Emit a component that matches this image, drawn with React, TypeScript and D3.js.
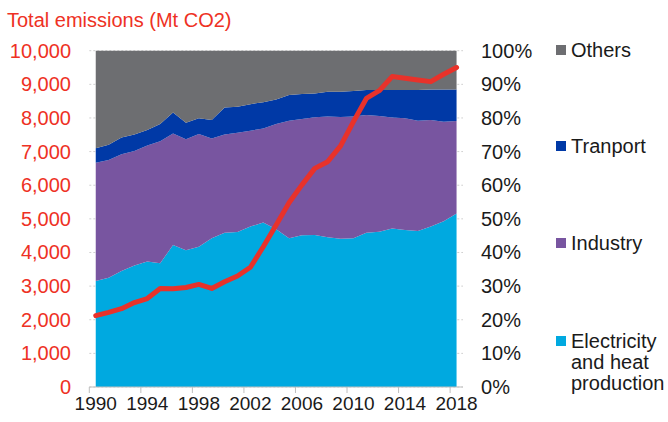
import React from "react";
import * as d3 from "d3";

const years = d3.range(1990, 2019);
const electricity = [31.5, 32.5, 34.5, 36.1, 37.3, 36.8, 42.2, 40.7, 41.7, 44.2, 45.9, 46.1, 47.7, 48.9, 46.9, 44.2, 45.1, 45.2, 44.5, 44.1, 44.2, 45.9, 46.2, 47.1, 46.7, 46.4, 47.7, 49.3, 51.6];
const industry = [35.2, 35.0, 34.7, 34.1, 34.5, 36.3, 33.2, 33.0, 33.5, 29.7, 29.2, 29.5, 28.5, 28.0, 31.3, 35.0, 34.6, 35.0, 35.9, 36.2, 36.2, 35.0, 34.4, 33.0, 33.2, 32.8, 31.7, 29.6, 27.5];
const transport = [4.3, 4.5, 5.0, 4.9, 4.6, 5.1, 6.2, 4.9, 4.7, 5.5, 8.0, 7.7, 7.9, 7.8, 7.3, 7.6, 7.4, 7.1, 7.4, 7.5, 7.6, 7.4, 7.7, 8.2, 8.4, 9.1, 9.1, 9.6, 9.4];
const others = [29.0, 28.0, 25.8, 24.9, 23.6, 21.8, 18.4, 21.4, 20.1, 20.6, 16.9, 16.7, 15.9, 15.3, 14.5, 13.2, 12.9, 12.7, 12.2, 12.2, 12.0, 11.7, 11.7, 11.7, 11.7, 11.7, 11.5, 11.5, 11.5];
const totalEmissions = [2120, 2220, 2330, 2510, 2630, 2930, 2920, 2960, 3050, 2930, 3130, 3300, 3560, 4170, 4820, 5480, 6010, 6500, 6700, 7170, 7890, 8580, 8810, 9230, 9180, 9130, 9080, 9300, 9500];

const seriesKeys = ["electricity", "industry", "transport", "others"];
const seriesNames = ["Electricity\nand heat\nproduction", "Industry", "Tranport", "Others"];
const seriesColors = ["#00a9e0", "#7855a0", "#0039a6", "#6d6e71"];
const leftTicks = d3.range(0, 10001, 1000);
const rightTicks = d3.range(0, 101, 10);
const xTickYears = [1990, 1994, 1998, 2002, 2006, 2010, 2014, 2018];

const font = "'Liberation Sans', Arial, sans-serif";

export default function App() {
  const W = 668, H = 422;
  const axL = 89.3, axR = 463, top = 50.7, bottom = 387;
  const x = d3.scaleBand<number>().domain(years).range([axL, axR]).padding(0);
  const cx = (yr: number) => (x(yr) as number) + x.bandwidth() / 2;
  const yL = d3.scaleLinear().domain([0, 10000]).range([bottom, top]);
  const yR = d3.scaleLinear().domain([0, 100]).range([bottom, top]);

  const table = years.map((yr, i) => ({
    year: yr,
    electricity: electricity[i],
    industry: industry[i],
    transport: transport[i],
    others: others[i],
  }));
  const stacked = d3.stack<any>().keys(seriesKeys)(table);
  const area = d3
    .area<any>()
    .x((d) => cx(d.data.year))
    .y0((d) => yR(d[0]))
    .y1((d) => yR(Math.min(100, d[1])));
  const line = d3
    .line<number>()
    .x((_, i) => cx(years[i]))
    .y((v) => yL(v));

  const legendY = [341, 243, 146, 50];

  return (
    <svg width={W} height={H} style={{ position: "absolute", left: 0, top: 0, fontFamily: font }}>
      <rect width={W} height={H} fill="#fff" />
      <text x={7} y={26.5} fontSize={20} fill="#ee3124">Total emissions (Mt CO2)</text>
      {leftTicks.map((t) => (
        <line key={t} x1={axL} x2={axR} y1={yL(t)} y2={yL(t)} stroke="#d0d0d0" strokeDasharray="2,2" strokeWidth={1} />
      ))}
      {stacked.map((s, i) => (
        <path key={s.key} d={area(s) as string} fill={seriesColors[i]} />
      ))}
      <line x1={axL} x2={axR} y1={bottom} y2={bottom} stroke="#bfbfbf" strokeWidth={1} />
      {xTickYears.map((yr) => (
        <line key={yr} x1={x(yr) as number} x2={x(yr) as number} y1={bottom} y2={bottom + 6} stroke="#bfbfbf" />
      ))}
      {xTickYears.map((yr) => (
        <text key={yr} x={cx(yr)} y={410} fontSize={19} textAnchor="middle" fill="#1a1a1a">{yr}</text>
      ))}
      {leftTicks.map((t) => (
        <text key={t} x={71} y={yL(t)} dy="0.35em" fontSize={20} textAnchor="end" fill="#ee3124">
          {d3.format(",")(t)}
        </text>
      ))}
      {rightTicks.map((t) => (
        <text key={t} x={481} y={yR(t)} dy="0.35em" fontSize={20} textAnchor="start" fill="#1a1a1a">
          {t}%
        </text>
      ))}
      <path d={line(totalEmissions) as string} fill="none" stroke="#e8322a" strokeWidth={5} strokeLinejoin="round" strokeLinecap="round" />
      {seriesNames.map((name, i) => (
        <g key={name}>
          <rect x={556} y={legendY[i] - 5} width={10} height={10} fill={seriesColors[i]} />
          {name.split("\n").map((ln, j) => (
            <text key={j} x={571} y={legendY[i] + j * 21} dy="0.35em" fontSize={20} fill="#1a1a1a">{ln}</text>
          ))}
        </g>
      ))}
    </svg>
  );
}
